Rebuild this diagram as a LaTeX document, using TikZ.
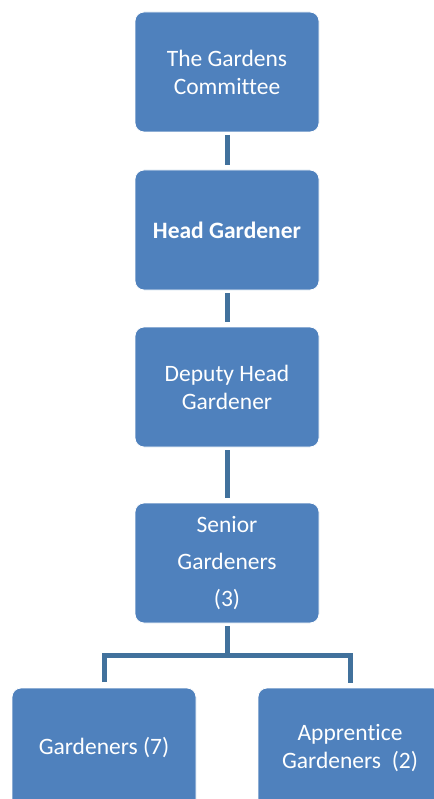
\documentclass[tikz,border=0pt]{standalone}
\usepackage{fontspec}
\setmainfont{Carlito}[Ligatures=NoCommon]
\usetikzlibrary{positioning}
\definecolor{boxblue}{HTML}{4F81BD}
\definecolor{linkblue}{HTML}{41719C}

\begin{document}
\begin{tikzpicture}[x=1pt, y=1pt,
    orgbox/.style={draw=white, line width=0.8pt, fill=boxblue, rounded corners=9pt,
      minimum width=184pt, minimum height=120pt, inner sep=0pt, outer sep=0pt,
      text=white, align=center, font=\fontsize{23.5}{28}\selectfont},
    link/.style={draw=linkblue, line width=5pt, shorten <=3pt, shorten >=5pt}]
    \path[use as bounding box] (0,0) rectangle (433,-799);
    % chain of posts
    \node[orgbox] (committee) at (227,-72) {The Gardens\\Committee};
    \node[orgbox, below=38pt of committee] (head) {\bfseries Head Gardener};
    \node[orgbox, below=37pt of head] (deputy) {Deputy Head\\Gardener};
    \node[orgbox, below=56pt of deputy] (senior) {Senior\\[9pt]Gardeners\\[9pt](3)};
    \node[orgbox] (gardeners) at (104,-748) {Gardeners (7)};
    \node[orgbox] (apprentice) at (350,-748) {Apprentice\\Gardeners~~(2)};
    \coordinate[below=32pt of senior] (fork);
    \draw[link] (committee) -- (head);
    \draw[link] (head) -- (deputy);
    \draw[link] (deputy) -- (senior);
    \draw[link, shorten >=0pt] (senior) -- (fork);
    \draw[link, shorten <=6pt] (gardeners.north) |- (fork) -| (apprentice.north);
\end{tikzpicture}
\end{document}
